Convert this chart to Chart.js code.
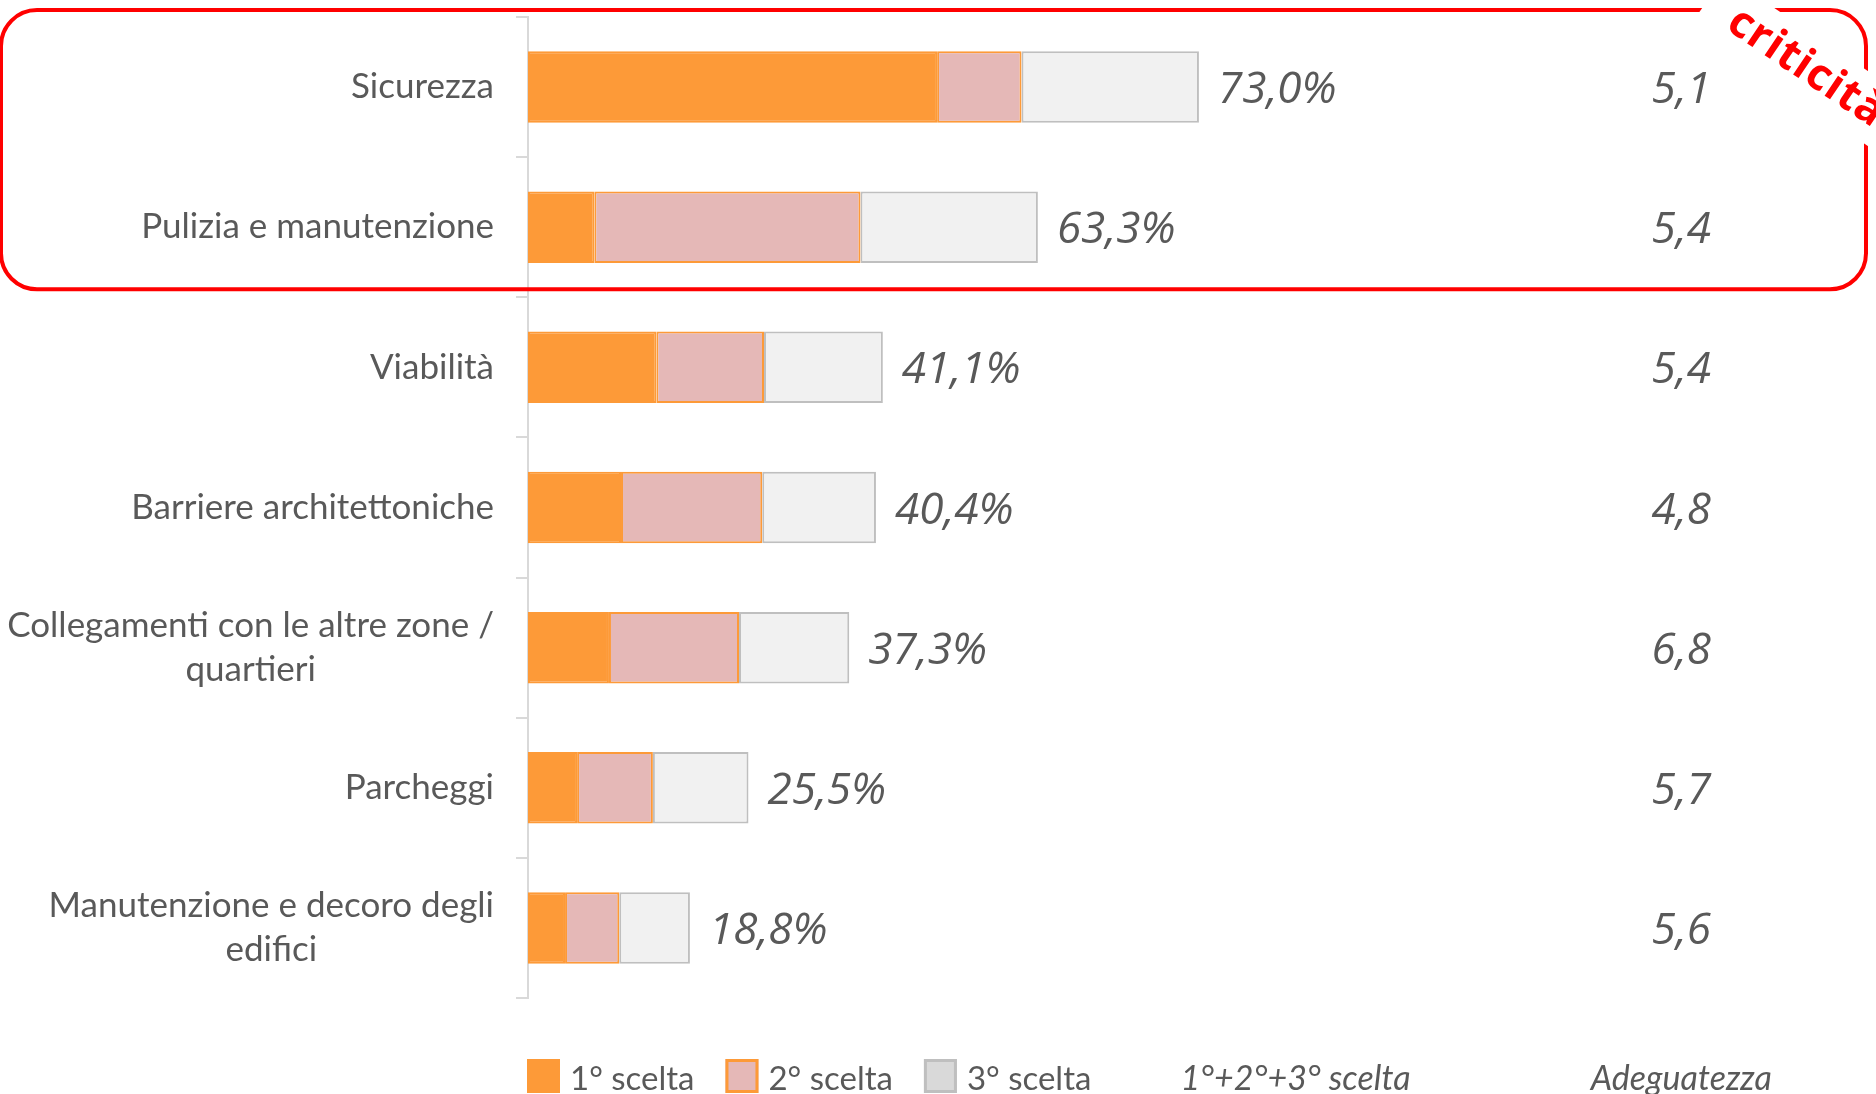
<!DOCTYPE html>
<html>
<head>
<meta charset="utf-8">
<script src="https://cdn.jsdelivr.net/npm/chart.js@4.4.1/dist/chart.umd.min.js"></script>
<style>
  html, body { margin: 0; padding: 0; background: #fff; }
  canvas { display: block; }
</style>
</head>
<body>
<canvas id="chart" width="1876" height="1094"></canvas>
<script>
// categorie (le righe del grafico)
var categorie = [
  ["Sicurezza"],
  ["Pulizia e manutenzione"],
  ["Viabilità"],
  ["Barriere architettoniche"],
  ["Collegamenti con le altre zone /", "quartieri"],
  ["Parcheggi"],
  ["Manutenzione e decoro degli", "edifici"]
];
// quote di scelta (%)
var primaScelta   = [47.5, 7.7, 14.9, 10.8, 9.4, 5.7, 4.3];
var secondaScelta = [9.8, 30.9, 12.5, 16.4, 15.1, 8.8, 6.3];
var terzaScelta   = [20.6, 20.6, 13.8, 13.2, 12.8, 11.1, 8.2];
// etichette del totale 1°+2°+3° e voto di adeguatezza
var totali       = [73.0, 63.3, 41.1, 40.4, 37.3, 25.5, 18.8];
var adeguatezza  = [5.1, 5.4, 5.4, 4.8, 6.8, 5.7, 5.6];

var grigio = '#595959';
var arancio = '#FD9A38';

function virgola(v) { return v.toFixed(1).replace('.', ','); }

// etichette asse y (righe centrate, blocco allineato a destra)
var etichetteY = {
  id: 'etichetteY',
  afterDraw: function(chart) {
    var ctx = chart.ctx, y = chart.scales.y, area = chart.chartArea;
    ctx.save();
    ctx.font = '35px Lato';
    ctx.fillStyle = grigio;
    ctx.textAlign = 'center';
    ctx.textBaseline = 'middle';
    var destra = area.left - 34, riga = 44;
    categorie.forEach(function(righe, i) {
      var cy = y.getPixelForValue(i);
      var w = 0;
      righe.forEach(function(t) { w = Math.max(w, ctx.measureText(t).width); });
      var cx = destra - w / 2;
      var y0 = cy - (righe.length - 1) * riga / 2;
      righe.forEach(function(t, k) { ctx.fillText(t, cx, y0 + k * riga); });
    });
    ctx.restore();
  }
};

// totali dopo le barre e colonna adeguatezza
var valori = {
  id: 'valori',
  afterDatasetsDraw: function(chart) {
    var ctx = chart.ctx, x = chart.scales.x, y = chart.scales.y;
    ctx.save();
    ctx.font = 'italic 44px "Open Sans"';
    ctx.fillStyle = grigio;
    ctx.textBaseline = 'alphabetic';
    var colonna = x.getPixelForValue(133.9);
    totali.forEach(function(t, i) {
      var fine = x.getPixelForValue(primaScelta[i] + secondaScelta[i] + terzaScelta[i]);
      var cy = y.getPixelForValue(i) + 16;
      ctx.textAlign = 'left';
      ctx.fillText(virgola(t) + '%', fine + 19, cy);
      ctx.textAlign = 'center';
      ctx.fillText(virgola(adeguatezza[i]), colonna, cy);
    });
    ctx.restore();
  }
};

// legenda in basso + intestazioni delle colonne
var legenda = {
  id: 'legenda',
  afterDraw: function(chart) {
    var ctx = chart.ctx, area = chart.chartArea;
    ctx.save();
    ctx.font = '33px Lato';
    ctx.textBaseline = 'alphabetic';
    var xx = area.left - 1, top = 1059, base = 1090;
    chart.data.datasets.forEach(function(ds) {
      ctx.fillStyle = ds.legendFill || ds.backgroundColor;
      ctx.fillRect(xx, top, 33, 34);
      if (ds.legendBorder) {
        ctx.strokeStyle = ds.legendBorder;
        ctx.lineWidth = 3;
        ctx.strokeRect(xx + 1.5, top + 1.5, 30, 31);
      }
      xx += 33 + 10;
      ctx.fillStyle = grigio;
      ctx.textAlign = 'left';
      ctx.fillText(ds.label, xx, base);
      xx += ctx.measureText(ds.label).width + 31;
    });
    ctx.font = 'italic 34px Lato';
    ctx.fillText('1°+2°+3° scelta', xx + 58, base);
    ctx.textAlign = 'center';
    ctx.fillText('Adeguatezza', chart.scales.x.getPixelForValue(133.9), base);
    ctx.restore();
  }
};

// riquadro rosso "criticità" sulle prime due righe
var riquadro = {
  id: 'riquadro',
  afterDraw: function(chart) {
    var ctx = chart.ctx, y = chart.scales.y, area = chart.chartArea;
    var passo = y.getPixelForValue(1) - y.getPixelForValue(0);
    var top = area.top - 7;
    var bottom = y.getPixelForValue(1) + passo / 2 - 8;
    var left = 1, right = 1866, r = 36;
    ctx.save();
    ctx.strokeStyle = '#FF0000';
    ctx.lineWidth = 4;
    ctx.beginPath();
    ctx.roundRect(left, top, right - left, bottom - top, r);
    ctx.stroke();
    // testo ruotato con fondo bianco
    ctx.translate(1806, 68);
    ctx.rotate(34 * Math.PI / 180);
    ctx.font = 'bold 44px "Open Sans"';
    ctx.letterSpacing = '1px';
    var w = ctx.measureText('criticità').width;
    ctx.fillStyle = '#fff';
    ctx.fillRect(-w / 2 - 30, -32, w + 60, 62);
    ctx.fillStyle = '#FF0000';
    ctx.textAlign = 'center';
    ctx.textBaseline = 'middle';
    ctx.fillText('criticità', 0, 0);
    ctx.restore();
  }
};

new Chart(document.getElementById('chart'), {
  type: 'bar',
  data: {
    labels: categorie.map(function(c) { return c.join(' '); }),
    datasets: [
      {
        label: '1° scelta',
        data: primaScelta,
        backgroundColor: arancio,
        borderColor: arancio,
        borderWidth: 2,
        borderSkipped: false
      },
      {
        label: '2° scelta',
        data: secondaScelta,
        backgroundColor: '#E5B8B7',
        borderColor: arancio,
        borderWidth: 2,
        borderSkipped: false,
        legendBorder: arancio
      },
      {
        label: '3° scelta',
        data: terzaScelta,
        backgroundColor: '#F1F1F1',
        borderColor: '#BFBFBF',
        borderWidth: 2,
        borderSkipped: false,
        legendFill: '#D9D9D9',
        legendBorder: '#BFBFBF'
      }
    ]
  },
  options: {
    indexAxis: 'y',
    responsive: false,
    animation: false,
    categoryPercentage: 1,
    barPercentage: 0.51,
    layout: { padding: { top: 17, bottom: 96, right: 13, left: 0 } },
    plugins: {
      legend: { display: false },
      tooltip: { enabled: false },
      title: { display: false }
    },
    scales: {
      x: {
        stacked: true,
        display: false,
        min: 0,
        max: 155
      },
      y: {
        stacked: true,
        ticks: { display: false },
        grid: {
          offset: true,
          drawOnChartArea: false,
          drawTicks: true,
          tickLength: 12,
          color: '#D9D9D9',
          lineWidth: 2
        },
        border: { display: true, color: '#D9D9D9', width: 2 },
        afterFit: function(scale) { scale.width = 528; }
      }
    }
  },
  plugins: [etichetteY, valori, legenda, riquadro]
});
</script>
</body>
</html>
